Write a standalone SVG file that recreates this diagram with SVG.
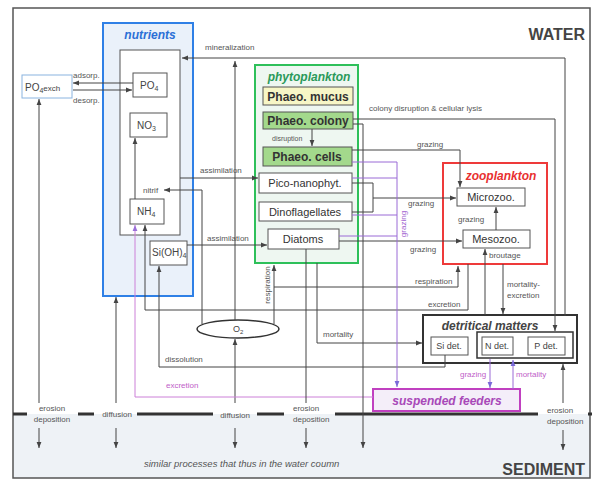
<svg xmlns="http://www.w3.org/2000/svg" width="594" height="480" viewBox="0 0 594 480">
<defs>
<style>
text{font-family:"Liberation Sans",Arial,sans-serif}
.lb{font-size:8px;fill:#555}
.lp{font-size:8px;fill:#c060c8}
.nd{font-size:11px;fill:#333}
.sm{font-size:10px;fill:#444}
.ph{font-size:12px;font-weight:bold;fill:#333}
.tt{font-size:12px;font-weight:bold;font-style:italic}
.bx{fill:#fff;stroke:#555;stroke-width:1}
.ln{fill:none;stroke:#444;stroke-width:1}
.pl{fill:none;stroke:#9a6ad6;stroke-width:1}
.pm{fill:none;stroke:#cc80d8;stroke-width:1}
.bd{stroke:#333;stroke-width:3}
</style>
<marker id="a" viewBox="0 0 10 10" refX="10" refY="5" markerWidth="6" markerHeight="6" orient="auto"><path d="M0,1 L10,5 L0,9z" fill="#444"/></marker>
<marker id="ap" viewBox="0 0 10 10" refX="10" refY="5" markerWidth="6" markerHeight="6" orient="auto"><path d="M0,1 L10,5 L0,9z" fill="#7a6ad8"/></marker>
<marker id="am" viewBox="0 0 10 10" refX="10" refY="5" markerWidth="6" markerHeight="6" orient="auto"><path d="M0,1 L10,5 L0,9z" fill="#9a70d8"/></marker>
</defs>
<rect x="13" y="414" width="577" height="64" fill="#eef2f6"/>
<rect x="13" y="8" width="577" height="470" fill="none" stroke="#555" stroke-width="1.5"/>
<text x="585" y="40" text-anchor="end" style="font-size:16px;font-weight:bold;fill:#444">WATER</text>
<text x="585" y="475" text-anchor="end" style="font-size:16px;font-weight:bold;fill:#444">SEDIMENT</text>
<text x="144" y="467" style="font-size:9.5px;font-style:italic;fill:#555">similar processes that thus in the water coumn</text>
<g id="boundary">
<line class="bd" x1="13" y1="414" x2="27" y2="414"/>
<line class="bd" x1="78" y1="414" x2="94" y2="414"/>
<line class="bd" x1="137" y1="414" x2="213" y2="414"/>
<line class="bd" x1="257" y1="414" x2="284" y2="414"/>
<line class="bd" x1="335" y1="414" x2="538" y2="414"/>
<line class="bd" x1="588" y1="414" x2="592" y2="414"/>
</g>
<g id="nutrients">
<rect x="103" y="23" width="90" height="273" fill="#eaf1fa" stroke="#2f80e6" stroke-width="2"/>
<text x="150" y="39" text-anchor="middle" class="tt" style="fill:#2a6fd6">nutrients</text>
<rect x="120" y="50" width="60" height="185" class="bx"/>
</g>
<g id="po4exch"><rect x="22" y="75" width="50" height="23" fill="#fff" stroke="#8ab4e0"/><text x="25" y="91" class="sm">PO<tspan font-size="7" dy="2">4</tspan><tspan font-size="8" dy="-2">exch</tspan></text></g>
<g id="po4"><rect x="133" y="73" width="34" height="24" class="bx"/><text x="140" y="89" class="sm">PO<tspan font-size="7" dy="2">4</tspan></text></g>
<g id="no3"><rect x="130" y="113" width="37" height="24" class="bx"/><text x="137" y="129" class="sm">NO<tspan font-size="7" dy="2">3</tspan></text></g>
<g id="nh4"><rect x="130" y="199" width="34" height="25" class="bx"/><text x="137" y="215" class="sm">NH<tspan font-size="7" dy="2">4</tspan></text></g>
<g id="sioh4"><rect x="150" y="241" width="37" height="24" class="bx"/><text x="152" y="256" class="sm">Si(OH)<tspan font-size="7" dy="2">4</tspan></text></g>
<g id="phytoplankton">
<rect x="255" y="65" width="103" height="198" fill="#eef7f1" stroke="#2ec05a" stroke-width="2"/>
<text x="309" y="81" text-anchor="middle" class="tt" style="fill:#2a9a5a">phytoplankton</text>
</g>
<g id="mucus"><rect x="263" y="87" width="90" height="18" fill="#f7f6c6" stroke="#555"/><text x="308" y="101" text-anchor="middle" class="ph">Phaeo. mucus</text></g>
<g id="colony"><rect x="263" y="112" width="90" height="17" fill="#a3d98c" stroke="#555"/><text x="308" y="125" text-anchor="middle" class="ph">Phaeo. colony</text></g>
<g id="cells"><rect x="263" y="147" width="89" height="19" fill="#a3d98c" stroke="#555"/><text x="307" y="161" text-anchor="middle" class="ph">Phaeo. cells</text></g>
<g id="pico"><rect x="259" y="173" width="93" height="20" class="bx"/><text x="305" y="187" text-anchor="middle" class="nd">Pico-nanophyt.</text></g>
<g id="dino"><rect x="259" y="202" width="93" height="19" class="bx"/><text x="305" y="216" text-anchor="middle" class="nd">Dinoflagellates</text></g>
<g id="diatoms"><rect x="268" y="229" width="71" height="20" class="bx"/><text x="303" y="243" text-anchor="middle" class="nd">Diatoms</text></g>
<g id="zooplankton">
<rect x="443" y="163" width="104" height="101" fill="#fff" stroke="#ee3a3a" stroke-width="2"/>
<text x="501" y="180" text-anchor="middle" class="tt" style="fill:#e83030">zooplankton</text>
</g>
<g id="microzoo"><rect x="457" y="188" width="68" height="18" class="bx"/><text x="491" y="201" text-anchor="middle" class="nd">Microzoo.</text></g>
<g id="mesozoo"><rect x="463" y="230" width="67" height="18" class="bx"/><text x="496" y="243" text-anchor="middle" class="nd">Mesozoo.</text></g>
<g id="o2"><ellipse cx="238" cy="329" rx="41" ry="9" fill="#fff" stroke="#333" stroke-width="1.5"/><text x="233" y="332" class="sm" style="font-size:9px">O<tspan font-size="6" dy="2">2</tspan></text></g>
<g id="detrital">
<rect x="423" y="315" width="154" height="48" fill="#fff" stroke="#333" stroke-width="2"/>
<text x="490" y="330" text-anchor="middle" class="tt" style="fill:#444">detritical matters</text>
<rect x="477" y="332" width="96" height="26" fill="none" stroke="#333" stroke-width="1.5"/>
</g>
<g id="sidet"><rect x="431" y="337" width="37" height="18" class="bx"/><text x="449" y="349" text-anchor="middle" class="sm" style="font-size:9px">Si det.</text></g>
<g id="ndet"><rect x="482" y="337" width="31" height="18" class="bx"/><text x="497" y="349" text-anchor="middle" class="sm" style="font-size:9px">N det.</text></g>
<g id="pdet"><rect x="528" y="337" width="37" height="18" class="bx"/><text x="546" y="349" text-anchor="middle" class="sm" style="font-size:9px">P det.</text></g>
<g id="suspended"><rect x="373" y="389" width="147" height="22" fill="#f4eef9" stroke="#c040c0" stroke-width="2"/><text x="447" y="405" text-anchor="middle" class="tt" style="fill:#a848b8">suspended feeders</text></g>
<g id="connectors">
<path class="ln" d="M565,316V58H182" marker-end="url(#a)"/>
<path class="ln" d="M235,320V61" marker-end="url(#a)"/>
<path class="ln" d="M235,403V339" marker-end="url(#a)"/>
<path class="ln" d="M235,428V448" marker-end="url(#a)"/>
<path class="ln" d="M202,324V190H164" marker-end="url(#a)"/>
<path class="ln" d="M274,324V265" marker-end="url(#a)"/>
<path class="ln" d="M274,287H458V266" marker-end="url(#a)"/>
<path class="ln" d="M468,264V310H145V225" marker-end="url(#a)"/>
<path class="ln" d="M135,199V138" marker-end="url(#a)"/>
<path class="pm" d="M373,397H135V225" marker-end="url(#am)"/>
<path class="ln" d="M180,178H258" marker-end="url(#a)"/>
<path class="ln" d="M187,245H267" marker-end="url(#a)"/>
<path class="ln" d="M445,355V367H159V266" marker-end="url(#a)"/>
<path class="ln" d="M133,83H73" marker-end="url(#a)"/>
<path class="ln" d="M73,90H132" marker-end="url(#a)"/>
<path class="ln" d="M39,403V99" marker-end="url(#a)"/>
<path class="ln" d="M39,428V448" marker-end="url(#a)"/>
<path class="ln" d="M116,403V297" marker-end="url(#a)"/>
<path class="ln" d="M116,428V448" marker-end="url(#a)"/>
<path class="ln" d="M312,129V146" marker-end="url(#a)"/>
<path class="ln" d="M353,119H555V331" marker-end="url(#a)"/>
<path class="ln" d="M353,124H363V448" marker-end="url(#a)"/>
<path class="ln" d="M352,150H460V187" marker-end="url(#a)"/>
<path class="ln" d="M352,183H373V212H352M373,198H456" marker-end="url(#a)"/>
<path class="ln" d="M339,241H462" marker-end="url(#a)"/>
<path class="ln" d="M496,230V207" marker-end="url(#a)"/>
<path class="ln" d="M485,315V249" marker-end="url(#a)"/>
<path class="ln" d="M503,264V314" marker-end="url(#a)"/>
<path class="ln" d="M317,263V343H422" marker-end="url(#a)"/>
<path class="ln" d="M306,249V403"/>
<path class="ln" d="M306,428V448" marker-end="url(#a)"/>
<path class="ln" d="M563,403V364" marker-end="url(#a)"/>
<path class="ln" d="M563,430V450" marker-end="url(#a)"/>
<path class="pl" d="M352,178H397M352,215H397M339,236H397M352,162H397V387" marker-end="url(#ap)"/>
<path class="pl" d="M490,359V388" marker-end="url(#ap)"/>
<path class="pl" d="M513,389V360" marker-end="url(#ap)"/>
</g>
<g id="labels">
<text x="73" y="78" class="lb">adsorp.</text>
<text x="73" y="103" class="lb">desorp.</text>
<text x="205" y="50" class="lb">mineralization</text>
<text x="369" y="111" class="lb">colony disruption &amp; cellular lysis</text>
<text x="272" y="141" class="lb" style="font-size:7px">disruption</text>
<text x="417" y="147" class="lb">grazing</text>
<text x="408" y="206" class="lb">grazing</text>
<text x="458" y="222" class="lb">grazing</text>
<text x="410" y="252" class="lb">grazing</text>
<text x="489" y="258" class="lb">broutage</text>
<text x="415" y="284" class="lb">respiration</text>
<text x="428" y="307" class="lb">excretion</text>
<text x="507" y="287" class="lb">mortality-</text>
<text x="507" y="298" class="lb">excretion</text>
<text x="200" y="173" class="lb">assimilation</text>
<text x="143" y="193" class="lb">nitrif</text>
<text x="207" y="241" class="lb">assimilation</text>
<text transform="translate(270,285) rotate(-90)" text-anchor="middle" class="lb">respiration</text>
<text transform="translate(406,224) rotate(-90)" text-anchor="middle" class="lp" style="fill:#a060d0">grazing</text>
<text x="323" y="337" class="lb">mortality</text>
<text x="165" y="362" class="lb">dissolution</text>
<text x="166" y="388" class="lp">excretion</text>
<text x="460" y="377" class="lp">grazing</text>
<text x="516" y="377" class="lp">mortality</text>
<text x="52" y="411" text-anchor="middle" class="lb">erosion</text>
<text x="52" y="422" text-anchor="middle" class="lb">deposition</text>
<text x="117" y="417" text-anchor="middle" class="lb">diffusion</text>
<text x="235" y="418" text-anchor="middle" class="lb">diffusion</text>
<text x="293" y="411" class="lb">erosion</text>
<text x="293" y="422" class="lb">deposition</text>
<text x="547" y="413" class="lb">erosion</text>
<text x="547" y="424" class="lb">deposition</text>
</g>
</svg>
